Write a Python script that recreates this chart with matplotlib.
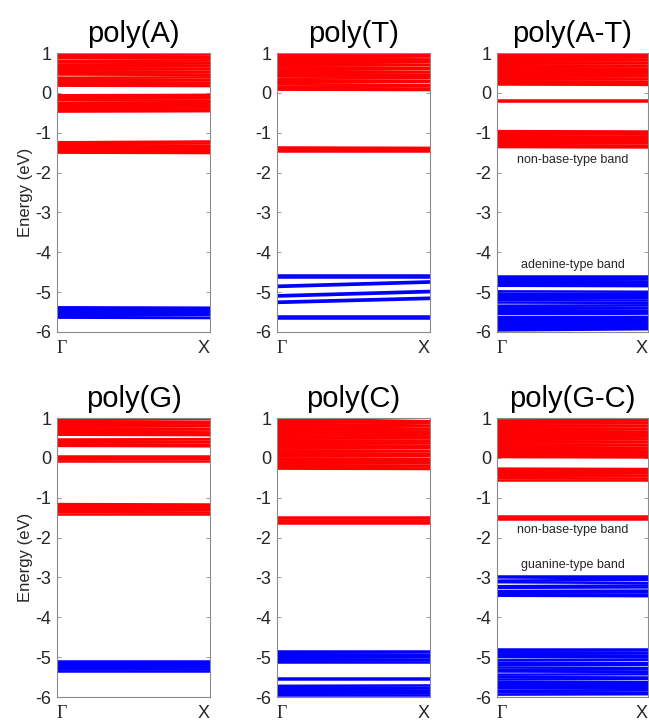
import matplotlib
matplotlib.use("Agg")
import matplotlib.pyplot as plt

plt.rcParams['font.family'] = ['Liberation Sans', 'DejaVu Sans']

# k-path endpoints (Gamma, X)
kpath = [0.0, 1.0]
kpath_labels = ["Γ", "X"]
yticks = [-6, -5, -4, -3, -2, -1, 0, 1]

titles = ["poly(A)", "poly(T)", "poly(A-T)", "poly(G)", "poly(C)", "poly(G-C)"]

# ---- band energies at Gamma and at X (eV) ----
A_red_G = [0.99, 0.95, 0.91, 0.87, 0.80, 0.76, 0.70, 0.66, 0.62, 0.58, 0.54, 0.50, 0.46, 0.38, 0.34, 0.30, 0.26, 0.22, 0.18,
           -0.06, -0.10, -0.15, -0.19, -0.26, -0.30, -0.34, -0.38, -0.43, -0.47,
           -1.24, -1.28, -1.31, -1.35, -1.39, -1.43, -1.47, -1.50]
A_red_X = [1.00, 0.96, 0.90, 0.86, 0.81, 0.75, 0.69, 0.67, 0.61, 0.59, 0.53, 0.51, 0.45, 0.39, 0.33, 0.31, 0.25, 0.23, 0.17,
           -0.05, -0.11, -0.14, -0.20, -0.25, -0.31, -0.35, -0.37, -0.42, -0.46,
           -1.22, -1.27, -1.33, -1.36, -1.40, -1.44, -1.46, -1.51]
A_blue_G = [-5.38, -5.42, -5.48, -5.51, -5.55, -5.60, -5.64]
A_blue_X = [-5.39, -5.43, -5.46, -5.50, -5.54, -5.58, -5.65]

T_red_G = [0.99, 0.95, 0.90, 0.86, 0.82, 0.77, 0.73, 0.68, 0.64, 0.59, 0.55, 0.50, 0.46, 0.42, 0.36, 0.32, 0.27, 0.22,
           0.16, 0.12, 0.08, -1.37, -1.40, -1.43, -1.46]
T_red_X = [0.98, 0.93, 0.91, 0.84, 0.80, 0.78, 0.71, 0.69, 0.62, 0.60, 0.53, 0.51, 0.45, 0.40, 0.37, 0.30, 0.28, 0.20,
           0.17, 0.11, 0.07, -1.38, -1.41, -1.43, -1.46]
T_blue_G = [-4.57, -4.61, -4.84, -4.87, -5.08, -5.11, -5.24, -5.27, -5.61, -5.64]
T_blue_X = [-4.57, -4.61, -4.73, -4.76, -4.97, -5.00, -5.14, -5.17, -5.61, -5.64]

AT_red_G = [1.01, 0.97, 0.93, 0.89, 0.85, 0.81, 0.77, 0.73, 0.69, 0.65, 0.61, 0.57, 0.53, 0.49, 0.45, 0.41, 0.37, 0.33,
            0.29, 0.25, 0.21, -0.19, -0.21,
            -0.96, -1.00, -1.04, -1.08, -1.12, -1.16, -1.20, -1.24, -1.28, -1.32, -1.36]
AT_red_X = [1.00, 0.98, 0.92, 0.90, 0.84, 0.82, 0.76, 0.74, 0.68, 0.66, 0.60, 0.58, 0.52, 0.50, 0.44, 0.42, 0.36, 0.34,
            0.28, 0.24, 0.20, -0.19, -0.21,
            -0.97, -1.01, -1.05, -1.11, -1.15, -1.17, -1.21, -1.25, -1.27, -1.33, -1.37]
AT_blue_G = [-4.60, -4.64, -4.68, -4.72, -4.76, -4.80, -4.84, -4.98, -5.04, -5.10, -5.14, -5.20, -5.26, -5.34, -5.38,
             -5.42, -5.46, -5.50, -5.55, -5.63, -5.67, -5.71, -5.75, -5.80, -5.84, -5.88, -5.92, -5.96]
AT_blue_X = [-4.60, -4.63, -4.67, -4.73, -4.77, -4.81, -4.85, -4.99, -5.05, -5.09, -5.15, -5.21, -5.27, -5.33, -5.39,
             -5.41, -5.47, -5.51, -5.54, -5.62, -5.68, -5.72, -5.76, -5.79, -5.83, -5.87, -5.91, -5.93]

G_red_G = [0.98, 0.95, 0.91, 0.87, 0.83, 0.78, 0.74, 0.70, 0.66, 0.62, 0.58, 0.46, 0.42, 0.38, 0.34, 0.30,
           0.04, 0.00, -0.04, -0.08,
           -1.16, -1.20, -1.24, -1.28, -1.32, -1.36, -1.40]
G_red_X = [1.00, 0.97, 0.90, 0.86, 0.81, 0.79, 0.72, 0.71, 0.64, 0.60, 0.57, 0.47, 0.41, 0.39, 0.33, 0.29,
           0.04, 0.01, -0.03, -0.08,
           -1.17, -1.21, -1.23, -1.29, -1.31, -1.37, -1.40]
G_blue_G = [-5.10, -5.14, -5.18, -5.22, -5.27, -5.31, -5.35]
G_blue_X = [-5.10, -5.15, -5.17, -5.23, -5.26, -5.31, -5.35]

C_red_G = [0.98, 0.94, 0.90, 0.86, 0.82, 0.78, 0.74, 0.70, 0.65, 0.61, 0.57, 0.52, 0.48, 0.44, 0.40, 0.36, 0.32, 0.28,
           0.24, 0.19, 0.15, 0.11, 0.07, 0.03, -0.02, -0.06, -0.10, -0.15, -0.19, -0.23, -0.27,
           -1.48, -1.52, -1.56, -1.60, -1.63]
C_red_X = [0.92, 0.89, 0.87, 0.81, 0.79, 0.73, 0.71, 0.66, 0.62, 0.60, 0.54, 0.50, 0.49, 0.43, 0.38, 0.37, 0.31, 0.27,
           0.25, 0.18, 0.16, 0.10, 0.06, 0.04, -0.03, -0.05, -0.11, -0.14, -0.20, -0.22, -0.28,
           -1.48, -1.52, -1.56, -1.60, -1.63]
C_blue_G = [-4.85, -4.89, -4.93, -4.97, -5.01, -5.05, -5.09, -5.13, -5.53, -5.55,
            -5.72, -5.76, -5.80, -5.84, -5.88, -5.92, -5.95]
C_blue_X = [-4.85, -4.88, -4.94, -4.98, -5.00, -5.06, -5.08, -5.13, -5.53, -5.55,
            -5.71, -5.77, -5.79, -5.85, -5.87, -5.91, -5.95]

GC_red_G = [0.94, 0.90, 0.86, 0.82, 0.78, 0.74, 0.70, 0.66, 0.62, 0.58, 0.54, 0.50, 0.46, 0.42, 0.38, 0.34, 0.30, 0.26,
            0.22, 0.18, 0.14, 0.10, 0.06, 0.02,
            -0.27, -0.31, -0.35, -0.39, -0.43, -0.47, -0.51, -0.55,
            -1.46, -1.50, -1.54]
GC_red_X = [0.95, 0.89, 0.87, 0.81, 0.79, 0.73, 0.71, 0.65, 0.63, 0.57, 0.55, 0.49, 0.47, 0.41, 0.39, 0.33, 0.31, 0.25,
            0.23, 0.17, 0.15, 0.09, 0.05, 0.01,
            -0.28, -0.30, -0.36, -0.38, -0.44, -0.46, -0.52, -0.55,
            -1.46, -1.50, -1.54]
GC_blue_G = [-2.96, -3.00, -3.08, -3.12, -3.22, -3.26, -3.34, -3.38, -3.42, -3.46,
             -4.80, -4.84, -4.88, -4.92, -4.96, -5.00, -5.08, -5.14, -5.20, -5.26, -5.32, -5.36, -5.44, -5.50, -5.56,
             -5.62, -5.68, -5.72, -5.78, -5.84, -5.88, -5.94]
GC_blue_X = [-2.96, -3.02, -3.06, -3.14, -3.20, -3.25, -3.33, -3.37, -3.43, -3.47,
             -4.80, -4.83, -4.89, -4.91, -4.97, -5.01, -5.07, -5.15, -5.19, -5.27, -5.31, -5.37, -5.43, -5.51, -5.55,
             -5.63, -5.67, -5.73, -5.77, -5.83, -5.89, -5.93]

red_G = [A_red_G, T_red_G, AT_red_G, G_red_G, C_red_G, GC_red_G]
red_X = [A_red_X, T_red_X, AT_red_X, G_red_X, C_red_X, GC_red_X]
blue_G = [A_blue_G, T_blue_G, AT_blue_G, G_blue_G, C_blue_G, GC_blue_G]
blue_X = [A_blue_X, T_blue_X, AT_blue_X, G_blue_X, C_blue_X, GC_blue_X]

# annotations: (panel index, text, energy)
notes_panel = [2, 2, 5, 5]
notes_text = ["non-base-type band", "adenine-type band", "non-base-type band", "guanine-type band"]
notes_energy = [-1.68, -4.32, -1.82, -2.68]

# ---- layout ----
W, H = 649, 721
fig = plt.figure(figsize=(W / 100, H / 100), dpi=100)
lefts = [57, 277, 497]
widths = [153, 153, 151]
tops = [53, 418]
ax_h = 279

spine_c = '#8a8a8a'
axes = []
for r in range(2):
    for c in range(3):
        ax = fig.add_axes([lefts[c] / W, 1 - (tops[r] + ax_h) / H, widths[c] / W, ax_h / H])
        axes.append(ax)

for i, ax in enumerate(axes):
    for g, x in zip(red_G[i], red_X[i]):
        ax.plot(kpath, [g, x], color='#ff0000', lw=1.8, solid_capstyle='butt')
    for g, x in zip(blue_G[i], blue_X[i]):
        ax.plot(kpath, [g, x], color='#0000ff', lw=1.8, solid_capstyle='butt')
    ax.set_xlim(kpath[0], kpath[1])
    ax.set_ylim(-6, 1)
    ax.set_yticks(yticks)
    ax.set_yticklabels([str(v) for v in yticks])
    ax.set_xticks(kpath)
    ax.set_xticklabels(kpath_labels)
    xl = ax.get_xticklabels()
    xl[0].set_family(['Liberation Serif', 'DejaVu Serif'])
    xl[0].set_horizontalalignment('left')
    xl[1].set_horizontalalignment('right')
    ax.tick_params(direction='in', length=3, width=0.6, color=spine_c, labelsize=13,
                   labelcolor='#262626', right=True, top=True, pad=4)
    ax.tick_params(axis='x', pad=6)
    for s in ax.spines.values():
        s.set_color(spine_c)
        s.set_linewidth(0.8)
    ax.set_title(titles[i], fontsize=21, color='#000000', pad=8)
    if i % 3 == 0:
        ax.set_ylabel("Energy (eV)", fontsize=12, color='#262626', labelpad=2)

for p, t, e in zip(notes_panel, notes_text, notes_energy):
    axes[p].text(0.5, e, t, ha='center', va='center', fontsize=9, color='#262626')

fig.savefig("out.png", dpi=100)
